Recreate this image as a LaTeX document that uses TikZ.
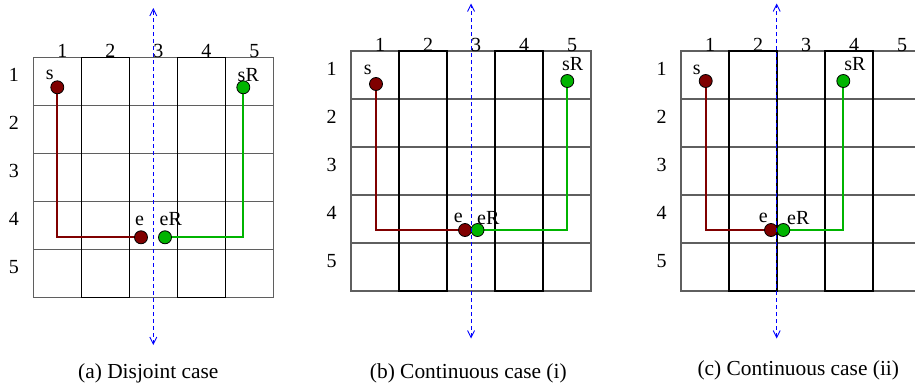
\documentclass[tikz,border=0pt]{standalone}
\usepackage{fontspec}
\setmainfont{Liberation Serif}
\usetikzlibrary{arrows.meta,backgrounds}
\definecolor{maroonc}{RGB}{128,0,0}
\definecolor{greenc}{RGB}{0,180,0}
\definecolor{gridgray}{RGB}{95,95,95}
\begin{document}
\begin{tikzpicture}[x=0.5pt,y=-0.5pt,
  gline/.style={draw=gridgray,line width=0.6pt},
  bline/.style={draw=black,line width=0.6pt},
  lbl/.style={inner sep=0pt,font=\fontsize{10}{12}\selectfont},
  captext/.style={inner sep=0pt,font=\fontsize{10.7}{13}\selectfont},
  dotr/.style={circle,draw=black,line width=0.4pt,fill=maroonc,minimum size=6.5pt,inner sep=0pt},
  dotg/.style={circle,draw=black,line width=0.4pt,fill=greenc,minimum size=6.5pt,inner sep=0pt},
  rpath/.style={draw=maroonc,line width=1pt},
  gpath/.style={draw=greenc,line width=1pt},
  axisline/.style={draw=blue,line width=0.45pt,dash pattern=on 2pt off 1.5pt,
    {Straight Barb[length=3.5pt,width=3.5pt]}-{Straight Barb[length=3.5pt,width=3.5pt]}}
]
\clip (0,0) rectangle (915,391);
% ---------- grids (background) ----------
\begin{scope}[on background layer]
  \foreach \L/\T/\W in {33.3/57.3/240, 351/51/240, 681/51/300}{
    \begin{scope}[shift={(\L,\T)}]
      \foreach \r in {0,...,4}
        \draw[gline] (0,{48*\r}) rectangle (\W,{48*\r+48});
      \draw[bline] (48,0) rectangle (96,240);
      \draw[bline] (144,0) rectangle (192,240);
    \end{scope}
  }
\end{scope}
% ---------- panel (a) ----------
\foreach \i in {1,...,5}{
  \node[lbl,anchor=base] (a-c\i) at ({33.3+48*\i-19},57.3) {\i};
  \node[lbl,anchor=base] (a-r\i) at (13.8,{57.3+48*\i-24}) {\i};
}
\node[dotr] (a-s) at (57.3,87.3) {};
\node[dotg] (a-sR) at (243.3,87.3) {};
\node[dotr] (a-e) at (141,237.3) {};
\node[dotg] (a-eR) at (165,237.3) {};
\node[lbl] (a-sl) at (49.7,75.3) {s};
\node[lbl] (a-sRl) at (248.3,75.5) {sR};
\node[lbl] (a-el) at (139.5,220.5) {e};
\node[lbl] (a-eRl) at (170.8,219.5) {eR};
\begin{scope}[on background layer]
  \draw[rpath] (a-s.center) |- (a-e.center);
  \draw[gpath] (a-sR.center) |- (a-eR.center);
\end{scope}
\coordinate (a-top) at (153.3,8);
\coordinate (a-bot) at (153.3,345);
\draw[axisline] (a-bot) -- (a-top);
\node[captext] (a-cap) at (148.3,373.3) {(a) Disjoint case};
% ---------- panel (b) ----------
\foreach \i in {1,...,5}{
  \node[lbl,anchor=base] (b-c\i) at ({351+48*\i-19},51) {\i};
  \node[lbl,anchor=base] (b-r\i) at (331.7,{51+48*\i-24}) {\i};
}
\node[dotr] (b-s) at (376,84) {};
\node[dotg] (b-sR) at (567.3,81) {};
\node[dotr] (b-e) at (465,230) {};
\node[dotg] (b-eR) at (477.5,230) {};
\node[lbl] (b-sl) at (367.7,70) {s};
\node[lbl] (b-sRl) at (572.7,64) {sR};
\node[lbl] (b-el) at (458.3,218.3) {e};
\node[lbl] (b-eRl) at (488.3,218.3) {eR};
\begin{scope}[on background layer]
  \draw[rpath] (b-s.center) |- (b-e.center);
  \draw[gpath] (b-sR.center) |- (b-eR.center);
\end{scope}
\coordinate (b-top) at (471,3.5);
\coordinate (b-bot) at (471,338.5);
\draw[axisline] (b-bot) -- (b-top);
\node[captext] (b-cap) at (468.3,373.3) {(b) Continuous case (i)};
% ---------- panel (c) ----------
\foreach \i in {1,...,5}{
  \node[lbl,anchor=base] (c-c\i) at ({681+48*\i-19},51) {\i};
  \node[lbl,anchor=base] (c-r\i) at (661.7,{51+48*\i-24}) {\i};
}
\node[dotr] (c-s) at (705.7,81) {};
\node[dotg] (c-sR) at (843.3,81) {};
\node[dotr] (c-e) at (771,230) {};
\node[dotg] (c-eR) at (783.3,230) {};
\node[lbl] (c-sl) at (696.7,70) {s};
\node[lbl] (c-sRl) at (855,64) {sR};
\node[lbl] (c-el) at (763.3,218.3) {e};
\node[lbl] (c-eRl) at (798.3,218.3) {eR};
\begin{scope}[on background layer]
  \draw[rpath] (c-s.center) |- (c-e.center);
  \draw[gpath] (c-sR.center) |- (c-eR.center);
\end{scope}
\coordinate (c-top) at (776.7,3.5);
\coordinate (c-bot) at (776.7,338.5);
\draw[axisline] (c-bot) -- (c-top);
\node[captext] (c-cap) at (798.3,370) {(c) Continuous case (ii)};
\end{tikzpicture}
\end{document}
